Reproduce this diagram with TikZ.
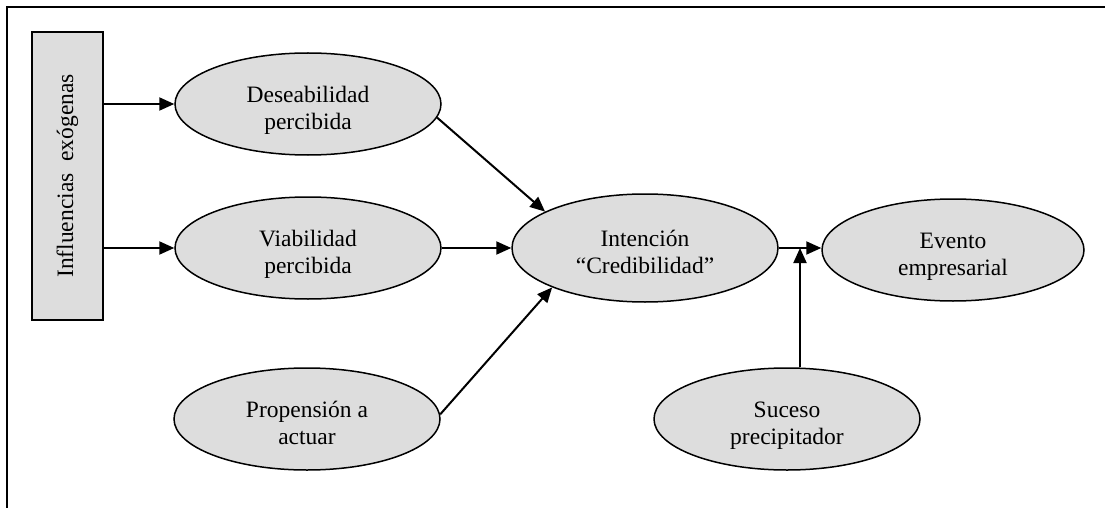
\documentclass[tikz,border=0pt]{standalone}
\usepackage{fontspec}
\setmainfont{Liberation Serif}
\usetikzlibrary{shapes.geometric,arrows.meta}
\definecolor{boxgray}{HTML}{DDDDDD}
% two centred lines, set a little below the middle of the oval
\newcommand{\ovtxt}[2]{\raisebox{-7pt}[\height][\depth]{\begin{tabular}{@{}c@{}}#1\\#2\end{tabular}}}
\begin{document}
\begin{tikzpicture}[x=1pt,y=-1pt,
  oval/.style={ellipse,draw,line width=1.5pt,fill=boxgray,inner sep=0pt,
    minimum width=266pt,minimum height=102pt,align=center,
    font=\fontsize{23.5}{27}\selectfont},
  sidebox/.style={rectangle,draw,line width=1.5pt,fill=boxgray,inner sep=0pt,
    minimum width=71pt,minimum height=288pt},
  link/.style={line width=2pt,-{Triangle[length=15pt,width=13pt]}}]
\useasboundingbox (0,0) rectangle (1105,508);
% open frame: top and left edges only
\draw[line width=2pt] (7,508) -- (7,7) -- (1105,7);

\node[sidebox] (inf) at (67.5,176) {};
\node[rotate=90,font=\fontsize{23.5}{27}\selectfont] (inflabel) at (inf.center) {Influencias\ \ exógenas};

\node[oval] (des) at (308,104) {\ovtxt{Deseabilidad}{percibida}};
\node[oval] (via) at (308,248) {\ovtxt{Viabilidad}{percibida}};
\node[oval] (pro) at (307,419) {\ovtxt{Propensión a}{actuar}};
\node[oval,minimum height=108pt] (int) at (645,248) {\ovtxt{Intención}{“Credibilidad”}};
\node[oval,minimum width=262pt] (eve) at (953,250) {\ovtxt{Evento}{empresarial}};
\node[oval] (suc) at (787,419) {\ovtxt{Suceso}{precipitador}};

\coordinate (join) at (800,248);

\draw[link] (inf.east |- des) -- (des.west);
\draw[link] (inf.east |- via) -- (via.west);
\draw[link] (des.-6) -- (int.160);
\draw[link] (via.east) -- (int.west);
\draw[link] (pro.2) -- (int.203);
\draw[link] (int.east) -- (eve.west |- int.east);
\draw[link] (join |- suc.north) -- (join);
\end{tikzpicture}
\end{document}
